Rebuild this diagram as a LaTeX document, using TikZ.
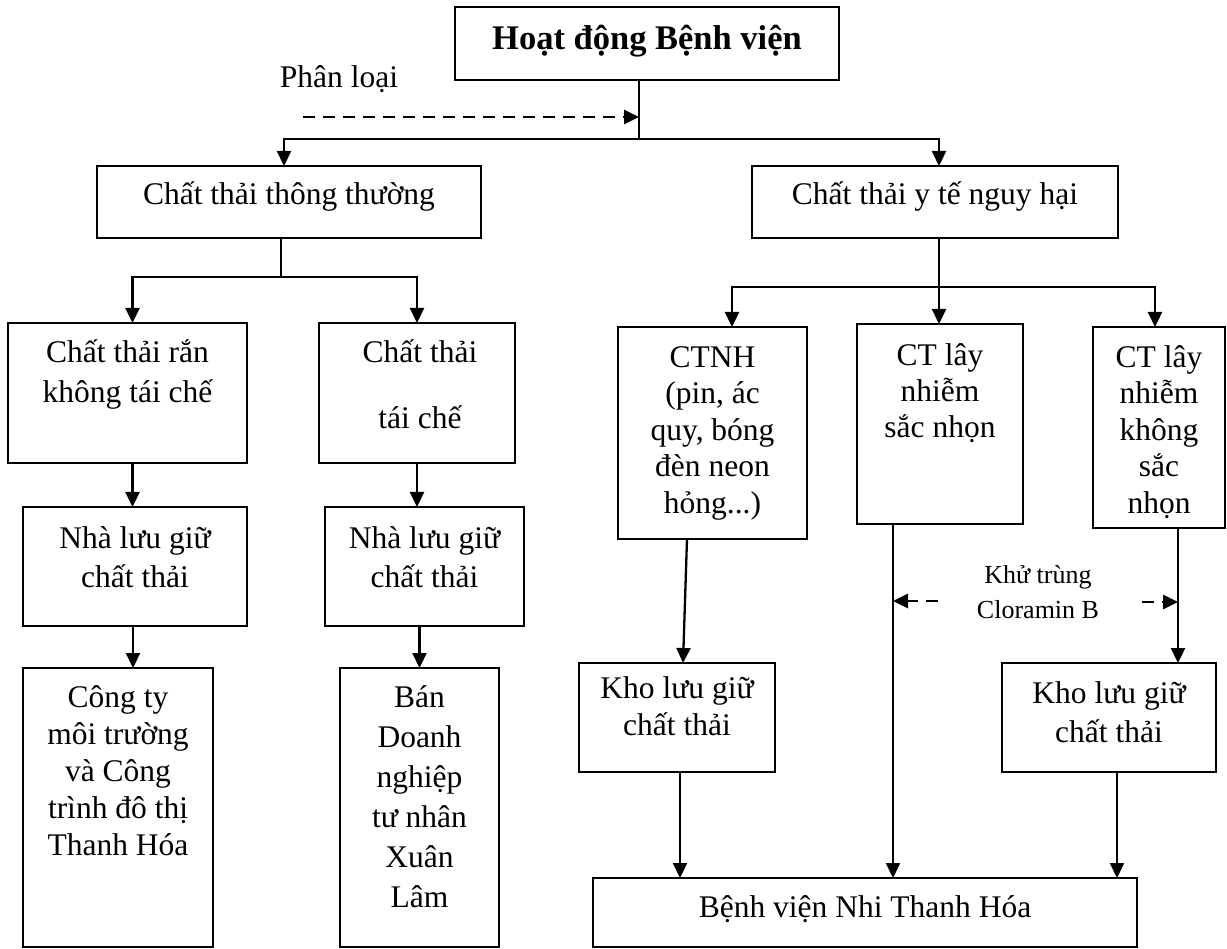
\documentclass[tikz,border=0pt]{standalone}
\usepackage{fontspec}
\setmainfont{Liberation Serif}
\usetikzlibrary{arrows.meta,calc}
\newcommand\fs{\rule{0pt}{30pt}}
\newcommand\fss{\rule{0pt}{25pt}}
\newcommand\mybx[5]{\node[box, minimum width={(#4-#2)*1pt}, minimum height={(#5-#3)*1pt}] (#1) at ({(#2+#4)/2},{(#3+#5)/2}) {};}
\begin{document}
\begin{tikzpicture}[x=1pt,y=-1pt,
  box/.style={draw, line width=2pt, inner sep=0pt, outer sep=0pt},
  txt/.style={inner sep=0pt, align=center, font=\fontsize{31.5}{37}\selectfont},
  small/.style={inner sep=0pt, align=center, font=\fontsize{26}{35}\selectfont},
  ln/.style={line width=2.3pt},
  arr/.style={line width=2.3pt, -{Triangle[length=15pt,width=14pt]}},
  darr/.style={line width=2.8pt, dash pattern=on 12pt off 8pt, -{Triangle[length=15pt,width=14pt]}}]
\useasboundingbox[fill=white] (0,0) rectangle (1227,949);

% boxes
\mybx{T}{455}{7}{839}{80}
\mybx{A}{97}{166}{481}{238}
\mybx{B}{752}{166}{1118}{238}
\mybx{C}{8}{323}{247}{463}
\mybx{D}{319}{323}{515}{463}
\mybx{E}{23}{507}{247}{626}
\mybx{F}{325}{507}{524}{626}
\mybx{G}{23}{668}{213}{947}
\mybx{H}{340}{668}{499}{947}
\mybx{I}{618}{327}{807}{539}
\mybx{J}{857}{324}{1023}{524}
\mybx{K}{1093}{327}{1225}{528}
\mybx{L}{579}{663}{775}{772}
\mybx{M}{1002}{663}{1216}{772}
\mybx{N}{593}{878}{1137}{947}

% texts
\node[txt, anchor=base, font=\fontsize{34.5}{40}\selectfont\bfseries] (tT) at (647,50) {Hoạt động Bệnh viện};
\node[txt, anchor=base] (tA) at (289,205) {Chất thải thông thường};
\node[txt, anchor=base] (tB) at (935,205) {Chất thải y tế nguy hại};
\node[txt, anchor=north, font=\fontsize{31.5}{40}\selectfont] (tC) at (127.5,332) {\fs Chất thải rắn\\không tái chế};
\node[txt, anchor=north] (tD) at (420,332) {\fs Chất thải\\[29pt]tái chế};
\node[txt, anchor=north, font=\fontsize{31.5}{39}\selectfont] (tE) at (135,518) {\fs Nhà lưu giữ\\chất thải};
\node[txt, anchor=north, font=\fontsize{31.5}{39}\selectfont] (tF) at (424.5,518) {\fs Nhà lưu giữ\\chất thải};
\node[txt, anchor=north] (tG) at (118,677) {\fs Công ty\\môi trường\\và Công\\trình đô thị\\Thanh Hóa};
\node[txt, anchor=north, font=\fontsize{31.5}{40}\selectfont] (tH) at (419.5,677) {\fs Bán\\Doanh\\nghiệp\\tư nhân\\Xuân\\Lâm};
\node[txt, anchor=north, font=\fontsize{31.5}{36.5}\selectfont] (tI) at (712.5,337) {\fs CTNH\\(pin, ác\\quy, bóng\\đèn neon\\hỏng...)};
\node[txt, anchor=north, font=\fontsize{31.5}{36}\selectfont] (tJ) at (940,335) {\fs CT lây\\nhiễm\\sắc nhọn};
\node[txt, anchor=north, font=\fontsize{31.5}{36.5}\selectfont] (tK) at (1159,337) {\fs CT lây\\nhiễm\\không\\sắc\\nhọn};
\node[txt, anchor=north] (tL) at (677,668) {\fs Kho lưu giữ\\chất thải};
\node[txt, anchor=north, font=\fontsize{31.5}{39}\selectfont] (tM) at (1109,673) {\fs Kho lưu giữ\\chất thải};
\node[txt, anchor=base] (tN) at (865,917) {Bệnh viện Nhi Thanh Hóa};
\node[txt, anchor=base] (pl) at (339,88) {Phân loại};
\node[small, anchor=north] (kt) at (1038,558) {\fss Khử trùng\\Cloramin B};

% connectors: top level
\coordinate (j1) at (639,139);
\draw[ln] (T.south -| j1) -- (j1);
\draw[arr] (j1) -| ([xshift=-5pt]A.north);
\draw[arr] (j1) -| ([xshift=4pt]B.north);
\coordinate (pls) at (303,117);
\draw[darr] (pls) -- (pls -| j1);

% left branch
\coordinate (j2) at (281,277);
\draw[ln] (A.south -| j2) -- (j2);
\draw[arr] (j2) -| ([xshift=5pt]C.north);
\draw[arr] (j2) -| (D.north);
\draw[arr] ([xshift=5pt]C.south) -- ([xshift=5pt]C.south |- E.north);
\draw[arr] (D.south) -- (D.south |- F.north);
\draw[arr] ([xshift=-2pt]E.south) -- ([xshift=-2pt]E.south |- G.north);
\draw[arr] (H.north |- F.south) -- (H.north);

% right branch
\coordinate (j3) at (939,287);
\draw[ln] (B.south -| j3) -- (j3);
\draw[arr] (j3) -| ([xshift=19.5pt]I.north);
\draw[arr] (j3) -- (j3 |- J.north);
\draw[arr] (j3) -| ([xshift=-4pt]K.north);

\draw[arr] ([xshift=-25.5pt]I.south) -- ([xshift=6pt]L.north);
\coordinate (jx) at ([xshift=-47pt]J.south);
\draw[arr] (jx) -- (jx |- N.north);
\coordinate (kx) at ([xshift=19pt]K.south);
\draw[arr] (kx) -- (kx |- M.north);
\draw[arr] ([xshift=3pt]L.south) -- ([xshift=3pt]L.south |- N.north);
\draw[arr] ([xshift=8pt]M.south) -- ([xshift=8pt]M.south |- N.north);

% disinfection dashed arrows
\coordinate (kl) at (938,601);
\draw[darr] (kl) -- (kl -| jx);
\coordinate (kr) at (1142,602);
\draw[darr] (kr) -- (kr -| kx);
\end{tikzpicture}
\end{document}
